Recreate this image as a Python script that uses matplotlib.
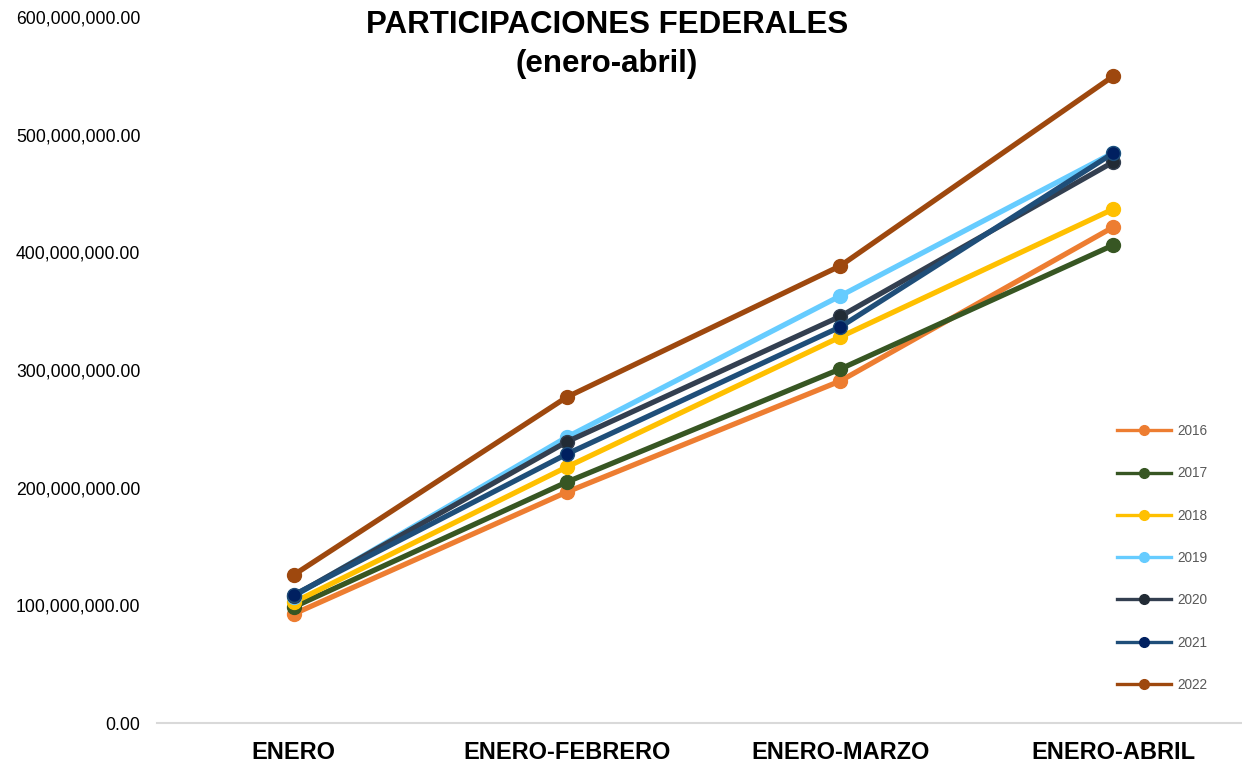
import matplotlib
matplotlib.use("Agg")
import matplotlib.pyplot as plt
from matplotlib.lines import Line2D
from matplotlib.ticker import FuncFormatter

plt.rcParams["font.family"] = ["Liberation Sans", "DejaVu Sans"]

# Data
periods = ["ENERO", "ENERO-FEBRERO", "ENERO-MARZO", "ENERO-ABRIL"]
years = ["2016", "2017", "2018", "2019", "2020", "2021", "2022"]

v2016 = [92.6e6, 196.3e6, 290.6e6, 421.5e6]
v2017 = [98.5e6, 204.8e6, 300.8e6, 406.2e6]
v2018 = [102.5e6, 217.6e6, 328.0e6, 436.8e6]
v2019 = [107.5e6, 243.0e6, 362.9e6, 484.6e6]
v2020 = [108.2e6, 239.0e6, 345.5e6, 476.8e6]
v2021 = [108.8e6, 228.6e6, 336.5e6, 484.4e6]
v2022 = [125.8e6, 277.0e6, 388.4e6, 549.8e6]
series = [v2016, v2017, v2018, v2019, v2020, v2021, v2022]

line_colors = ["#ED7D31", "#375623", "#FFC000", "#66CCFF", "#333F50", "#1F4E79", "#9E480E"]
marker_colors = ["#ED7D31", "#375623", "#FFC000", "#66CCFF", "#222B35", "#002060", "#9E480E"]

fig = plt.figure(figsize=(12.42, 7.62), dpi=100)
ax = fig.add_axes([157 / 1242, 39 / 762, (1250 - 157) / 1242, 706 / 762])

x = list(range(len(periods)))
for vals, lc, mc in zip(series, line_colors, marker_colors):
    ax.plot(x, vals, color=lc, linewidth=3.8, marker="o", markersize=10,
            markerfacecolor=mc, markeredgecolor=lc, markeredgewidth=1,
            solid_capstyle="round")

ax.set_xlim(-0.5, 3.5)
ax.set_ylim(0, 600e6)
ax.set_yticks([i * 100e6 for i in range(7)])
ax.yaxis.set_major_formatter(FuncFormatter(lambda v, p: f"{v:,.2f}"))
ax.set_xticks(x)
ax.set_xticklabels(periods, fontsize=17, fontweight="bold", color="#000000")
ax.tick_params(axis="y", length=0, pad=12, labelsize=12.7, colors="#000000")
ax.tick_params(axis="x", length=0, pad=13)

for side in ["top", "right", "left"]:
    ax.spines[side].set_visible(False)
ax.spines["bottom"].set_color("#D9D9D9")
ax.spines["bottom"].set_linewidth(1.5)

fig.text(607 / 1242, 1 - 10 / 762, "PARTICIPACIONES FEDERALES\n(enero-abril)",
         ha="center", va="top", fontsize=22.5, fontweight="bold",
         linespacing=1.38, color="#000000")

handles = [Line2D([0], [0], color=lc, linewidth=2.4, marker="o", markersize=7,
                  markerfacecolor=mc, markeredgecolor=mc)
           for lc, mc in zip(line_colors, marker_colors)]
leg = ax.legend(handles, years, loc="upper left",
                bbox_to_anchor=(1117 / 1242, 1 - 424 / 762),
                bbox_transform=fig.transFigure, frameon=False,
                fontsize=9.8, handlelength=4.0, handletextpad=0.4,
                labelspacing=2.08, borderpad=0, borderaxespad=0)
for t in leg.get_texts():
    t.set_color("#595959")

fig.savefig("out.png", dpi=100, facecolor="white")
